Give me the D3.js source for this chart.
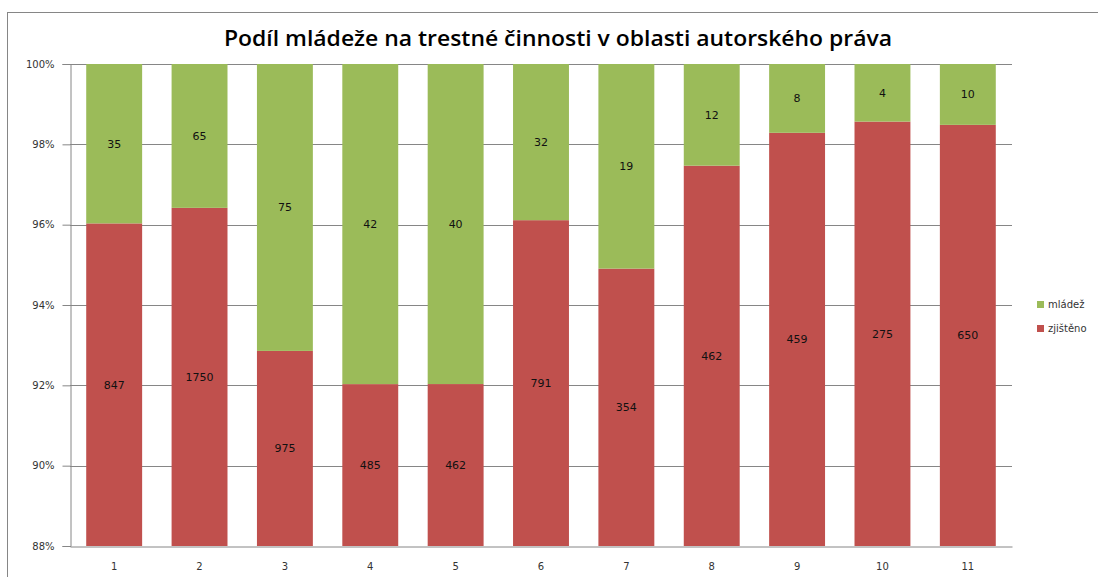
<!DOCTYPE html>
<html lang="cs">
<head>
  <meta charset="UTF-8">
  <title>Podíl mládeže</title>
  <script src="https://d3js.org/d3.v7.min.js"></script>
  <style>
    body { margin: 0; background: #fff; }
  </style>
</head>
<body>
  <svg id="chart" width="1098" height="577"></svg>
  <script>
    // data
    const categories = ["1", "2", "3", "4", "5", "6", "7", "8", "9", "10", "11"];
    const zjisteno = [847, 1750, 975, 485, 462, 791, 354, 462, 459, 275, 650];
    const mladez = [35, 65, 75, 42, 40, 32, 19, 12, 8, 4, 10];
    const seriesNames = ["zjištěno", "mládež"];
    const yTicks = [0.88, 0.90, 0.92, 0.94, 0.96, 0.98, 1.00];

    const colors = { "zjištěno": "#C0504D", "mládež": "#9BBB59" };

    const svg = d3.select("#chart");
    const plotLeft = 70, plotRight = 1012, plotTop = 64, plotBottom = 546;

    // chart frame
    svg.append("rect")
      .attr("x", 7.5).attr("y", 12.5)
      .attr("width", 1100).attr("height", 600)
      .attr("fill", "none").attr("stroke", "#868686");

    svg.append("text")
      .attr("x", 558).attr("y", 46)
      .attr("text-anchor", "middle")
      .attr("font-family", "Open Sans, sans-serif")
      .attr("font-weight", 600)
      .attr("font-size", "22px")
      .attr("textLength", 668)
      .attr("lengthAdjust", "spacingAndGlyphs")
      .attr("fill", "#000")
      .text("Podíl mládeže na trestné činnosti v oblasti autorského práva");

    const x = d3.scaleBand().domain(categories).range([plotLeft, plotRight]).paddingInner(0.345).paddingOuter(0.19);
    const y = d3.scaleLinear().domain([0.88, 1]).range([plotBottom, plotTop]);

    const rows = categories.map((c, i) => ({ cat: c, "zjištěno": zjisteno[i], "mládež": mladez[i] }));
    const stack = d3.stack().keys(seriesNames).offset(d3.stackOffsetExpand);
    const layers = stack(rows);

    // gridlines
    svg.append("g")
      .selectAll("line")
      .data(yTicks.slice(1))
      .join("line")
      .attr("x1", plotLeft).attr("x2", plotRight)
      .attr("y1", d => Math.round(y(d)) + 0.5).attr("y2", d => Math.round(y(d)) + 0.5)
      .attr("stroke", "#868686");

    // bars, clipped to the axis range
    svg.append("clipPath").attr("id", "plot")
      .append("rect").attr("x", plotLeft).attr("y", plotTop).attr("width", plotRight - plotLeft).attr("height", plotBottom - plotTop);

    const g = svg.append("g").attr("clip-path", "url(#plot)");
    layers.forEach(layer => {
      g.selectAll(null)
        .data(layer)
        .join("rect")
        .attr("x", d => x(d.data.cat))
        .attr("width", x.bandwidth())
        .attr("y", d => y(d[1]))
        .attr("height", d => y(d[0]) - y(d[1]))
        .attr("fill", colors[layer.key]);
    });

    // value labels, centred in the visible part of each segment
    layers.forEach(layer => {
      svg.append("g").selectAll("text")
        .data(layer)
        .join("text")
        .attr("x", d => x(d.data.cat) + x.bandwidth() / 2)
        .attr("y", d => (y(Math.max(d[0], 0.88)) + y(Math.min(d[1], 1))) / 2 + 4)
        .attr("text-anchor", "middle")
        .attr("font-family", "DejaVu Sans, sans-serif")
        .attr("font-size", "11px")
        .attr("fill", "#111")
        .text(d => d.data[layer.key]);
    });

    // y axis
    const yAxis = svg.append("g")
      .attr("transform", `translate(${plotLeft + 0.5},0)`)
      .call(d3.axisLeft(y).tickValues(yTicks).tickFormat(d3.format(".0%")).tickSize(8).tickPadding(8));
    yAxis.select(".domain").attr("stroke", "#868686");
    yAxis.selectAll(".tick line").attr("stroke", "#868686");
    yAxis.selectAll("text")
      .attr("font-family", "DejaVu Sans, sans-serif").attr("font-size", "10px").attr("fill", "#333");

    // x axis
    const xAxis = svg.append("g")
      .attr("transform", `translate(0,${plotBottom + 0.5})`)
      .call(d3.axisBottom(x).tickSize(0).tickPadding(16));
    xAxis.select(".domain").attr("stroke", "#868686");
    xAxis.selectAll("text")
      .attr("font-family", "DejaVu Sans, sans-serif").attr("font-size", "10px").attr("fill", "#333");

    // legend
    const legend = svg.append("g").attr("transform", "translate(1037,301)");
    ["mládež", "zjištěno"].forEach((name, i) => {
      const row = legend.append("g").attr("transform", `translate(0,${i * 24})`);
      row.append("rect").attr("width", 7).attr("height", 7).attr("fill", colors[name]);
      row.append("text").attr("x", 11).attr("y", 7)
        .attr("font-family", "DejaVu Sans, sans-serif").attr("font-size", "10px").attr("fill", "#333")
        .text(name);
    });
  </script>
</body>
</html>
